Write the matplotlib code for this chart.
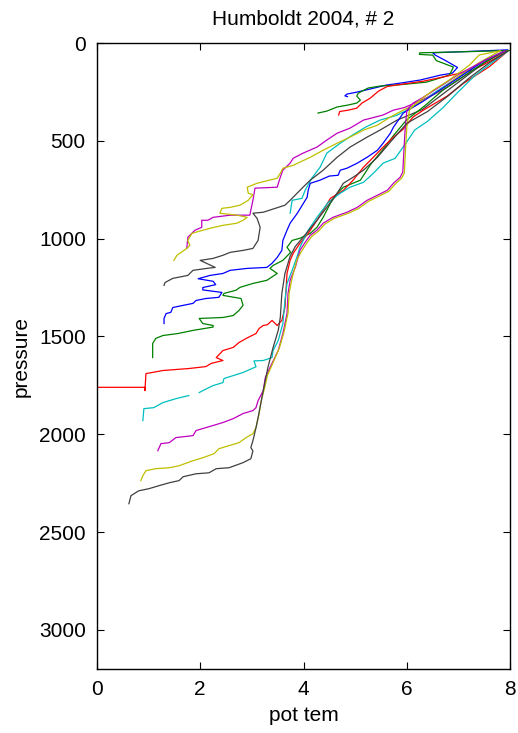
import numpy as np
import matplotlib
matplotlib.use("Agg")
import matplotlib.pyplot as plt

plt.rcParams['font.family'] = ['Liberation Sans', 'DejaVu Sans']

# potential temperature / pressure pairs for each cast, in station order
st01 = [(7.95, 35), (7.3, 42), (6.5, 50), (6.55, 62), (6.75, 90), (6.98, 125), (6.88, 154),
        (6.65, 164), (6.26, 189), (5.87, 205), (5.6, 215), (5.29, 235), (5.03, 251),
        (4.84, 261), (4.8, 270), (4.85, 274)]
st02 = [(8.0, 38), (7.2, 44), (6.25, 50), (6.24, 58), (6.5, 62), (6.57, 90), (6.9, 123),
        (6.85, 150), (6.82, 164), (6.38, 200), (5.79, 215), (5.48, 220), (5.25, 230),
        (5.06, 256), (5.03, 271), (5.1, 292), (5.03, 307), (4.86, 317), (4.65, 327),
        (4.45, 348), (4.28, 358)]
st03 = [(7.95, 40), (7.7, 80), (7.29, 138), (6.78, 169), (6.32, 195), (5.87, 212),
        (5.62, 222), (5.45, 246), (5.29, 282), (5.13, 307), (5.03, 333), (4.87, 343),
        (4.7, 350), (4.68, 368)]
st04 = [(7.9, 40), (7.5, 90), (7.2, 140), (6.9, 190), (6.5, 260), (6.1, 330), (5.8, 370),
        (5.48, 394), (5.2, 430), (4.95, 470), (4.71, 512), (4.45, 563), (4.32, 635),
        (4.16, 691), (4.03, 753), (3.97, 794), (3.78, 804), (3.74, 870)]
st05 = [(7.9, 40), (7.5, 100), (7.1, 170), (6.7, 240), (6.3, 290), (5.95, 330), (5.74, 343),
        (5.54, 368), (5.16, 394), (4.9, 435), (4.65, 461), (4.45, 496), (4.26, 532),
        (3.99, 563), (3.8, 589), (3.74, 614), (3.6, 650), (3.55, 686), (3.49, 737),
        (3.06, 742), (3.02, 804), (2.96, 880), (2.58, 880), (2.25, 891), (2.15, 906),
        (2.03, 906), (2.03, 942), (1.9, 957), (1.76, 993), (1.74, 1050)]
st06 = [(7.8, 40), (7.4, 100), (7.0, 170), (6.6, 250), (6.2, 310), (5.93, 343), (5.68, 378),
        (5.43, 420), (5.16, 445), (4.9, 481), (4.65, 512), (4.38, 548), (4.13, 584),
        (3.8, 625), (3.6, 640), (3.55, 666), (3.49, 691), (3.1, 717), (2.91, 737),
        (2.93, 768), (3.02, 775), (2.93, 804), (2.77, 829), (2.58, 840), (2.42, 845),
        (2.38, 870), (2.71, 880), (2.91, 891), (2.83, 906), (2.71, 921), (2.44, 932),
        (2.19, 947), (2.05, 957), (1.84, 973), (1.76, 1009), (1.8, 1034), (1.74, 1050),
        (1.55, 1085), (1.49, 1111)]
st07 = [(7.9, 40), (7.5, 100), (7.1, 180), (6.7, 260), (6.3, 340), (5.81, 394), (5.48, 445),
        (5.23, 481), (4.9, 532), (4.65, 584), (4.38, 650), (4.13, 701), (3.99, 737),
        (3.74, 804), (3.64, 829), (3.22, 865), (3.02, 870), (3.1, 896), (3.16, 942),
        (3.12, 1009), (3.02, 1050), (2.83, 1060), (2.58, 1070), (2.44, 1085), (2.25, 1101),
        (2.0, 1111), (2.29, 1147), (2.13, 1152), (1.86, 1162), (1.76, 1188), (1.47, 1203),
        (1.32, 1224), (1.3, 1239)]
st08 = [(7.9, 40), (7.5, 90), (7.1, 160), (6.7, 230), (6.3, 300), (5.93, 358), (5.74, 430),
        (5.68, 461), (5.54, 512), (5.43, 548), (5.23, 584), (5.04, 614), (4.84, 640),
        (4.71, 650), (4.67, 676), (4.5, 680), (4.32, 701), (4.13, 717), (4.09, 753),
        (4.07, 788), (3.88, 870), (3.74, 921), (3.68, 957), (3.6, 1009), (3.58, 1060),
        (3.49, 1096), (3.39, 1126), (3.29, 1147), (2.91, 1152), (2.58, 1162), (2.44, 1178),
        (2.19, 1188), (1.96, 1205), (2.25, 1218), (2.3, 1235), (2.05, 1250), (2.05, 1262),
        (2.42, 1275), (2.36, 1300), (2.11, 1306), (1.92, 1316), (1.86, 1331), (1.67, 1341),
        (1.47, 1352), (1.43, 1377), (1.34, 1383), (1.3, 1408), (1.3, 1434)]
st09 = [(7.9, 40), (7.5, 100), (7.1, 170), (6.7, 240), (6.35, 320), (5.99, 394), (5.75, 470),
        (5.55, 540), (5.3, 620), (5.1, 701), (4.77, 737), (4.65, 768), (4.52, 819),
        (4.38, 891), (4.26, 942), (4.13, 973), (3.93, 998), (3.78, 1009), (3.68, 1044),
        (3.75, 1070), (3.6, 1111), (3.41, 1137), (3.35, 1152), (3.49, 1178), (3.29, 1213),
        (3.02, 1229), (2.77, 1249), (2.69, 1264), (2.46, 1280), (2.44, 1290), (2.79, 1306),
        (2.83, 1341), (2.75, 1367), (2.64, 1393), (2.44, 1403), (1.98, 1408), (2.05, 1434),
        (2.25, 1444), (2.25, 1452), (1.86, 1469), (1.57, 1485), (1.28, 1495), (1.14, 1510),
        (1.08, 1536), (1.08, 1608)]
st10 = [(7.95, 42), (7.6, 120), (7.1, 205), (6.78, 271), (6.32, 343), (6.12, 378),
        (5.93, 440), (5.74, 481), (5.54, 532), (5.35, 584), (5.16, 635), (4.96, 701),
        (4.77, 753), (4.52, 794), (4.38, 855), (4.26, 906), (4.09, 973), (3.93, 1024),
        (3.8, 1075), (3.74, 1111), (3.68, 1178), (3.64, 1352), (3.58, 1418), (3.49, 1444),
        (3.39, 1418), (3.3, 1440), (3.22, 1444), (3.14, 1459), (3.08, 1485), (2.89, 1510),
        (2.75, 1531), (2.64, 1556), (2.44, 1572), (2.31, 1608), (2.44, 1623), (2.21, 1638),
        (2.11, 1654), (1.78, 1664), (1.28, 1674), (0.95, 1690), (0.93, 1777), (0.93, 1760),
        (0.0, 1760)]
st11 = [(7.95, 42), (7.6, 110), (7.3, 170), (6.97, 256), (6.7, 330), (6.4, 400),
        (6.15, 445), (5.96, 520), (5.77, 590), (5.54, 614), (5.35, 666), (5.16, 712),
        (4.9, 737), (4.71, 768), (4.48, 814), (4.26, 891), (4.09, 957), (3.93, 1044),
        (3.87, 1096), (3.78, 1162), (3.68, 1229), (3.64, 1316), (3.6, 1434), (3.51, 1521),
        (3.41, 1572), (3.39, 1608), (3.22, 1623), (3.04, 1625), (3.08, 1655), (2.83, 1684),
        (2.64, 1700), (2.46, 1715), (2.44, 1736), (2.25, 1751), (2.05, 1777), (1.98, 1787),
        (np.nan, np.nan), (1.78, 1802), (1.53, 1818), (1.28, 1838), (1.1, 1864),
        (0.91, 1869), (0.89, 1930)]
st12 = [(7.9, 40), (7.5, 90), (7.0, 160), (6.6, 230), (6.3, 280), (6.12, 307), (6.0, 343),
        (5.97, 425), (5.95, 512), (5.93, 614), (5.92, 660), (5.87, 686), (5.74, 717),
        (5.62, 753), (5.43, 778), (5.23, 804), (5.04, 840), (4.84, 865), (4.57, 891),
        (4.38, 921), (4.26, 957), (4.13, 983), (4.03, 1019), (3.93, 1060), (3.84, 1147),
        (3.74, 1213), (3.7, 1280), (3.68, 1382), (3.6, 1485), (3.51, 1572), (3.35, 1659),
        (3.26, 1710), (3.22, 1777), (3.12, 1828), (3.08, 1864), (3.02, 1879), (2.83, 1894),
        (2.64, 1920), (2.44, 1940), (2.11, 1966), (1.92, 1981), (1.86, 2007), (1.53, 2017),
        (1.4, 2043), (1.24, 2048), (1.18, 2084)]
st13 = [(7.8, 40), (7.4, 61), (7.21, 113), (6.82, 189), (6.51, 241), (6.18, 307),
        (6.05, 343), (6.0, 425), (5.98, 512), (5.96, 614), (5.95, 665), (5.9, 690),
        (5.77, 722), (5.65, 758), (5.46, 783), (5.26, 809), (5.07, 845), (4.87, 870),
        (4.6, 896), (4.41, 926), (4.29, 962), (4.16, 988), (4.06, 1024), (3.96, 1065),
        (3.87, 1110), (3.78, 1200), (3.72, 1280), (3.7, 1380), (3.62, 1480), (3.53, 1560),
        (3.4, 1640), (3.3, 1700), (3.25, 1760), (3.18, 1828), (3.14, 1894), (3.08, 1966),
        (3.02, 1997), (2.89, 2017), (2.75, 2043), (2.56, 2058), (2.36, 2074), (2.27, 2099),
        (2.05, 2120), (1.86, 2135), (1.59, 2161), (1.4, 2171), (1.14, 2176), (0.95, 2186),
        (0.89, 2212), (0.85, 2237)]
st14 = [(7.95, 42), (7.6, 100), (7.2, 180), (6.8, 270), (6.4, 350), (6.0, 410), (5.7, 500),
        (5.43, 584), (5.16, 650), (4.96, 686), (4.77, 717), (4.65, 768), (4.45, 840),
        (4.26, 906), (4.0, 990), (3.84, 1040), (3.74, 1090), (3.64, 1178), (3.58, 1280),
        (3.55, 1403), (3.51, 1469), (3.41, 1557), (3.31, 1659), (3.22, 1777), (3.12, 1915),
        (3.08, 1966), (3.02, 2033), (2.98, 2068), (3.02, 2085), (2.98, 2125), (2.83, 2145),
        (2.56, 2171), (2.31, 2176), (2.17, 2197), (1.92, 2202), (1.67, 2217), (1.59, 2237),
        (1.4, 2248), (1.2, 2263), (1.01, 2278), (0.81, 2289), (0.66, 2314), (0.62, 2355)]

stations = [st01, st02, st03, st04, st05, st06, st07,
            st08, st09, st10, st11, st12, st13, st14]

# old-style colour order: b g r c m y k
line_colors = [(0, 0, 1), (0, 0.5, 0), (1, 0, 0), (0, 0.75, 0.75),
               (0.75, 0, 0.75), (0.75, 0.75, 0), (0.25, 0.25, 0.25)]

fig = plt.figure(figsize=(5.18, 7.33), dpi=100)
ax = fig.add_axes([0.187, 0.0873, 0.798, 0.854])

for i, st in enumerate(stations):
    arr = np.array(st, dtype=float)
    ax.plot(arr[:, 0], arr[:, 1], color=line_colors[i % len(line_colors)], lw=0.9)

ax.set_xlim(0, 8)
ax.set_ylim(3200, 0)
ax.set_xticks([0, 2, 4, 6, 8])
ax.set_yticks([0, 500, 1000, 1500, 2000, 2500, 3000])
ax.tick_params(direction='in', length=5, width=0.8, top=True, right=True,
               labelsize=15, pad=8)
for s in ax.spines.values():
    s.set_linewidth(1.0)

ax.set_title('Humboldt 2004, # 2', fontsize=15, pad=13)
ax.set_xlabel('pot tem', fontsize=15, labelpad=5)
ax.set_ylabel('pressure', fontsize=15, labelpad=6)

fig.savefig('out.png', dpi=100)
